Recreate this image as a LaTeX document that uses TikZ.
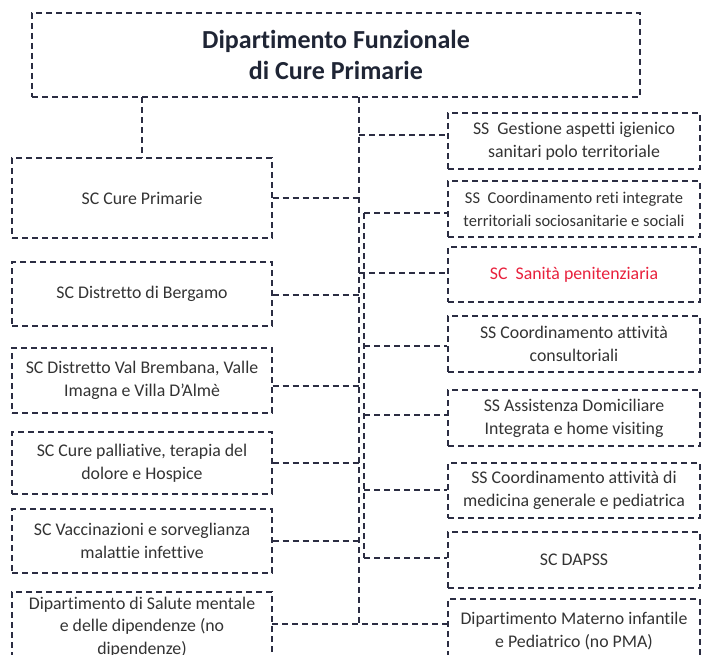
\documentclass[tikz,border=0pt]{standalone}
\usepackage{fontspec}
\setmainfont{Carlito}[Ligatures=NoCommon]
\definecolor{linec}{HTML}{2B2D42}
\definecolor{txt}{HTML}{333333}
\definecolor{titlec}{HTML}{1F2535}
\definecolor{redc}{HTML}{E8203C}
\begin{document}
\begin{tikzpicture}[x=1pt,y=-1pt,
  dline/.style={draw=linec,line width=1.1pt,dash pattern=on 6pt off 4pt},
  box/.style={dline,rectangle,align=center,inner sep=0pt,text=txt,font=\fontsize{17.8}{23}\selectfont},
  lbox/.style={box,minimum width=260pt},
  rbox/.style={box,minimum width=252pt},
  conn/.style={dline}]
\useasboundingbox (0,0) rectangle (701,655);
\clip (0,0) rectangle (701,655);
% top box
\node[dline,rectangle,minimum width=608pt,minimum height=84pt,inner sep=0pt,align=center,text=titlec,font=\fontsize{26}{31}\selectfont\bfseries] (top) at (336,55) {Dipartimento Funzionale\\di Cure Primarie};
% left column
\node[lbox,minimum height=80pt] (l1) at (142,198) {SC Cure Primarie};
\node[lbox,minimum height=64pt] (l2) at (142,294) {SC Distretto di Bergamo};
\node[lbox,minimum height=65pt] (l3) at (142,380.5) {SC Distretto Val Brembana, Valle\\Imagna e Villa D’Almè};
\node[lbox,minimum height=62pt] (l4) at (142,463) {SC Cure palliative, terapia del\\dolore e Hospice};
\node[lbox,minimum height=64pt] (l5) at (142,541) {SC Vaccinazioni e sorveglianza\\malattie infettive};
\node[lbox,minimum height=70pt,font=\fontsize{17.8}{22.5}\selectfont] (l6) at (142,627) {Dipartimento di Salute mentale\\e delle dipendenze (no\\dipendenze)};
% right column
\node[rbox,minimum height=56pt] (r1) at (574,141) {SS\ \ Gestione aspetti igienico\\sanitari polo territoriale};
\node[rbox,minimum height=56pt,font=\fontsize{16.5}{23}\selectfont] (r2) at (574,209) {SS\ \ Coordinamento reti integrate\\territoriali sociosanitarie e sociali};
\node[rbox,minimum height=55pt,text=redc] (r3) at (574,274.5) {SC\ \ Sanità penitenziaria};
\node[rbox,minimum height=56pt] (r4) at (574,344) {SS Coordinamento attività\\consultoriali};
\node[rbox,minimum height=56pt] (r5) at (574,418) {SS Assistenza Domiciliare\\Integrata e home visiting};
\node[rbox,minimum height=55pt] (r6) at (574,490.5) {SS Coordinamento attività di\\medicina generale e pediatrica};
\node[rbox,minimum height=56pt] (r7) at (574,560) {SC DAPSS};
\node[rbox,minimum height=64pt] (r8) at (574,631) {Dipartimento Materno infantile\\e Pediatrico (no PMA)};
% trunks
\coordinate (ta0) at (359,97);
\coordinate (ta1) at (359,624);
\coordinate (tb0) at (364,213);
\coordinate (tb1) at (364,558);
\coordinate (tl) at (142,97);
\draw[conn] (ta0) -- (ta1);
\draw[conn] (tb0) -- (tb1);
\draw[conn] (tl) -- (l1.north -| tl);
% left connectors
\coordinate (a1) at (359,198);
\coordinate (a2) at (359,295);
\coordinate (a3) at (359,386);
\coordinate (a4) at (359,463);
\coordinate (a5) at (359,541);
\draw[conn] (l1.east |- a1) -- (a1);
\draw[conn] (l2.east |- a2) -- (a2);
\draw[conn] (l3.east |- a3) -- (a3);
\draw[conn] (l4.east |- a4) -- (a4);
\draw[conn] (l5.east |- a5) -- (a5);
\coordinate (m6) at (272,624);
\draw[conn] (m6) -- (r8.west |- m6);
% right connectors
\coordinate (b1) at (359,135);
\coordinate (b2) at (364,213);
\coordinate (b3) at (359,273);
\coordinate (b4) at (364,346);
\coordinate (b5) at (364,415);
\coordinate (b6) at (364,490);
\coordinate (b7) at (364,558);
\draw[conn] (b1) -- (r1.west |- b1);
\draw[conn] (b2) -- (r2.west |- b2);
\draw[conn] (b3) -- (r3.west |- b3);
\draw[conn] (b4) -- (r4.west |- b4);
\draw[conn] (b5) -- (r5.west |- b5);
\draw[conn] (b6) -- (r6.west |- b6);
\draw[conn] (b7) -- (r7.west |- b7);
\end{tikzpicture}
\end{document}
